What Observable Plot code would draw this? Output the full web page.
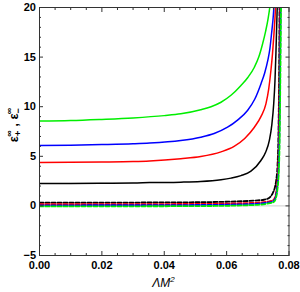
<!DOCTYPE html>
<html><head><meta charset="utf-8">
<script src="https://cdn.jsdelivr.net/npm/d3@7"></script>
<script src="https://cdn.jsdelivr.net/npm/@observablehq/plot@0.6"></script>
<style>body{margin:0;background:#fff}</style>
</head><body><div id="chart"></div>
<script>
// Solid curves (epsilon_+^inf)
const greenX = [0, 0.01, 0.02, 0.03, 0.04, 0.0453, 0.0517, 0.055, 0.0582, 0.0614, 0.0646, 0.0668, 0.0689, 0.0703, 0.0715, 0.0725, 0.0732, 0.0740, 0.0746];
const greenY = [8.55, 8.6, 8.72, 8.87, 9.1, 9.28, 9.69, 10.0, 10.45, 11.15, 12.14, 12.95, 13.98, 15.0, 16.3, 17.6, 18.7, 20.5, 23];
const blueX = [0, 0.01, 0.02, 0.03, 0.0353, 0.0453, 0.0517, 0.056, 0.0603, 0.0635, 0.0667, 0.069, 0.071, 0.0722, 0.0732, 0.0739, 0.0744, 0.0750, 0.0755];
const blueY = [6.09, 6.12, 6.18, 6.26, 6.33, 6.59, 6.93, 7.3, 7.93, 8.65, 9.62, 10.75, 12.3, 13.4, 14.66, 15.9, 17.35, 19.3, 22];
const redX = [0, 0.01, 0.02, 0.03, 0.0353, 0.0453, 0.0517, 0.0582, 0.0624, 0.0658, 0.0689, 0.071, 0.0726, 0.0735, 0.0742, 0.0747, 0.0751, 0.0755, 0.0760];
const redY = [4.37, 4.39, 4.42, 4.47, 4.53, 4.76, 4.98, 5.45, 6.0, 6.8, 7.93, 9.0, 10.29, 11.8, 13.65, 15.3, 17.0, 18.9, 22];
const blackX = [0, 0.01, 0.02, 0.03, 0.0353, 0.0453, 0.0517, 0.0582, 0.0614, 0.0646, 0.0678, 0.071, 0.0725, 0.0737, 0.0745, 0.0751, 0.0755, 0.0758, 0.0761, 0.0765];
const blackY = [2.26, 2.27, 2.29, 2.31, 2.35, 2.39, 2.46, 2.64, 2.8, 3.05, 3.5, 4.58, 5.4, 6.6, 8.2, 10.3, 12.6, 15.3, 18.7, 23];
// Dashed curves (epsilon_-^inf)
const blackDX = [0, 0.02, 0.04, 0.05, 0.06, 0.065, 0.07, 0.072, 0.0736, 0.0748, 0.0755, 0.0759, 0.0763, 0.0766, 0.0768, 0.0770];
const blackDY = [0.32, 0.33, 0.35, 0.37, 0.42, 0.47, 0.56, 0.62, 0.8, 1.3, 1.9, 2.6, 4.0, 7.0, 12, 22];
const redDX = [0, 0.03, 0.05, 0.06, 0.065, 0.07, 0.073, 0.0748, 0.0756, 0.0761, 0.0765, 0.0768, 0.0770, 0.0773];
const redDY = [0.17, 0.18, 0.2, 0.23, 0.27, 0.33, 0.42, 0.55, 0.95, 1.9, 3.5, 7, 13, 24];
const blueDX = [0, 0.03, 0.05, 0.06, 0.065, 0.07, 0.073, 0.0749, 0.0757, 0.0762, 0.0766, 0.0769, 0.0771, 0.0774];
const blueDY = [0.06, 0.07, 0.09, 0.12, 0.16, 0.22, 0.32, 0.45, 0.85, 1.8, 3.4, 6.8, 12.5, 23];
const greenDX = [0, 0.03, 0.05, 0.06, 0.065, 0.07, 0.073, 0.0750, 0.0758, 0.0763, 0.0767, 0.0770, 0.0772, 0.0775];
const greenDY = [-0.05, -0.04, -0.02, 0.01, 0.05, 0.11, 0.22, 0.37, 0.78, 1.7, 3.3, 6.6, 12, 22];

const xMajor = [0, 0.02, 0.04, 0.06, 0.08];
const xMinor = [0.005, 0.01, 0.015, 0.025, 0.03, 0.035, 0.045, 0.05, 0.055, 0.065, 0.07, 0.075];
const yMajor = [-5, 0, 5, 10, 15, 20];
const yMinor = [-4, -3, -2, -1, 1, 2, 3, 4, 6, 7, 8, 9, 11, 12, 13, 14, 16, 17, 18, 19];

const zip = (xs, ys) => xs.map((x, i) => ({x, y: ys[i]}));
const solid = (xs, ys, c) => Plot.line(zip(xs, ys), {x: "x", y: "y", stroke: c, strokeWidth: 1.5, curve: "monotone-x", clip: true});
const dashed = (xs, ys, c) => Plot.line(zip(xs, ys), {x: "x", y: "y", stroke: c, strokeWidth: 1.8, strokeDasharray: "4,2", curve: "monotone-x", clip: true});
const blank = () => "";
const tc = "#333";

const chart = Plot.plot({
  width: 300, height: 292,
  marginLeft: 39, marginRight: 11.5, marginTop: 7, marginBottom: 37,
  x: {domain: [0, 0.08]},
  y: {domain: [-5, 20]},
  style: {fontFamily: "'Liberation Sans', Arial, sans-serif", fontSize: "11px", fontWeight: "bold", color: "black", background: "white"},
  marks: [
    Plot.ruleY([0], {stroke: "#cccccc", strokeWidth: 1}),
    dashed(blackDX, blackDY, "black"),
    dashed(redDX, redDY, "#ff0000"),
    dashed(blueDX, blueDY, "#0000ff"),
    dashed(greenDX, greenDY, "#00ee00"),
    solid(blackX, blackY, "black"),
    solid(redX, redY, "#ff0000"),
    solid(blueX, blueY, "#0000ff"),
    solid(greenX, greenY, "#00ee00"),
    Plot.frame({stroke: tc}),
    Plot.axisX(xMajor, {anchor: "bottom", tickSize: -4, tickPadding: 10, stroke: tc, tickFormat: d => d.toFixed(2), label: null}),
    Plot.axisX(xMinor, {anchor: "bottom", tickSize: -2, stroke: tc, tickFormat: blank, label: null}),
    Plot.axisX(xMajor, {anchor: "top", tickSize: -4, stroke: tc, tickFormat: blank, label: null}),
    Plot.axisX(xMinor, {anchor: "top", tickSize: -2, stroke: tc, tickFormat: blank, label: null}),
    Plot.axisY(yMajor, {anchor: "left", tickSize: -4, tickPadding: 7.5, stroke: tc, label: null}),
    Plot.axisY(yMinor, {anchor: "left", tickSize: -2, stroke: tc, tickFormat: blank, label: null}),
    Plot.axisY(yMajor, {anchor: "right", tickSize: -4, stroke: tc, tickFormat: blank, label: null}),
    Plot.axisY(yMinor, {anchor: "right", tickSize: -2, stroke: tc, tickFormat: blank, label: null})
  ]
});
document.getElementById("chart").appendChild(chart);

const svg = d3.select(chart);
// x-axis label
const xl = svg.append("text")
  .attr("x", 163.5).attr("y", 287)
  .attr("text-anchor", "middle")
  .attr("font-family", "'Liberation Sans', Arial, sans-serif")
  .attr("font-size", 12).attr("font-style", "italic").attr("font-weight", "normal");
xl.append("tspan").text("ΛM");
xl.append("tspan").attr("font-size", 8).attr("dy", -5).text("2");
// y-axis label
const yl = svg.append("text")
  .attr("transform", "translate(18,125) rotate(-90)")
  .attr("text-anchor", "middle")
  .attr("font-family", "'Liberation Sans', Arial, sans-serif")
  .attr("font-size", 13).attr("font-weight", "bold");
yl.append("tspan").text("ε");
yl.append("tspan").attr("font-size", 9).attr("dy", 3).text("+");
yl.append("tspan").attr("font-size", 9).attr("dx", -6).attr("dy", -9).text("∞");
yl.append("tspan").attr("dy", 6).text(" , ε");
yl.append("tspan").attr("font-size", 9).attr("dy", 3).text("−");
yl.append("tspan").attr("font-size", 9).attr("dx", -6).attr("dy", -9).text("∞");
</script>
</body></html>
